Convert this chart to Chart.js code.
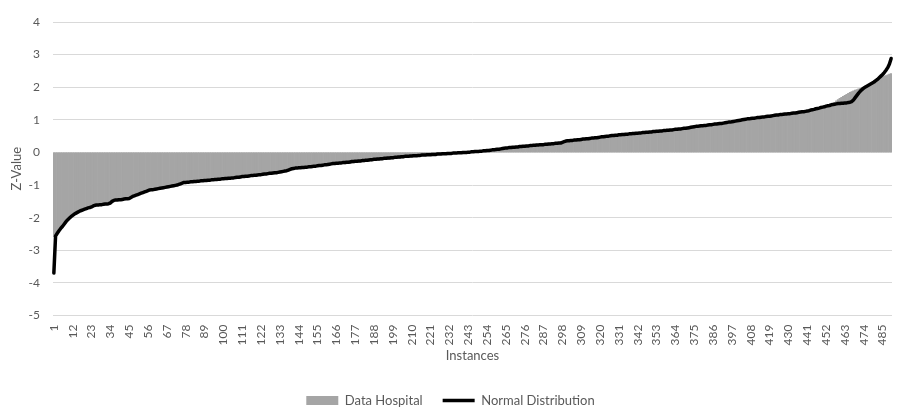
<!DOCTYPE html>
<html>
<head>
<meta charset="utf-8">
<script src="https://cdn.jsdelivr.net/npm/chart.js@4"></script>
<style>
html,body{margin:0;padding:0;background:#fff;}
#wrap{width:897px;height:417px;}
</style>
</head>
<body>
<div id="wrap"><canvas id="c" width="897" height="417"></canvas></div>
<script>
// Categories: instance numbers 1..490
const categories = Array.from({length: 490}, (_, i) => String(i + 1));
// show every 11th instance as a tick label
const tickStep = 11;
const yTicks = [4, 3, 2, 1, 0, -1, -2, -3, -4, -5];

const seriesNames = ['Data Hospital', 'Normal Distribution'];

const dataHospital = [
-2.58,-2.52,-2.46,-2.40,-2.33,-2.27,-2.20,-2.13,-2.07,-2.02,
-1.97,-1.93,-1.89,-1.86,-1.83,-1.80,-1.78,-1.76,-1.74,-1.72,
-1.70,-1.69,-1.67,-1.64,-1.62,-1.61,-1.61,-1.60,-1.60,-1.59,
-1.58,-1.58,-1.57,-1.55,-1.50,-1.47,-1.46,-1.46,-1.45,-1.45,
-1.44,-1.43,-1.42,-1.42,-1.41,-1.38,-1.35,-1.33,-1.31,-1.29,
-1.27,-1.25,-1.23,-1.21,-1.19,-1.17,-1.15,-1.14,-1.14,-1.13,
-1.12,-1.11,-1.10,-1.09,-1.08,-1.07,-1.06,-1.05,-1.04,-1.03,
-1.02,-1.01,-1.00,-0.98,-0.96,-0.94,-0.92,-0.92,-0.91,-0.91,
-0.90,-0.90,-0.89,-0.89,-0.88,-0.88,-0.87,-0.87,-0.86,-0.86,
-0.85,-0.85,-0.84,-0.84,-0.83,-0.83,-0.82,-0.82,-0.81,-0.81,
-0.80,-0.80,-0.79,-0.79,-0.78,-0.78,-0.77,-0.76,-0.76,-0.75,
-0.74,-0.74,-0.73,-0.73,-0.72,-0.71,-0.71,-0.70,-0.70,-0.69,
-0.68,-0.68,-0.67,-0.66,-0.66,-0.65,-0.64,-0.64,-0.63,-0.62,
-0.62,-0.61,-0.60,-0.59,-0.58,-0.57,-0.56,-0.54,-0.52,-0.50,
-0.49,-0.48,-0.48,-0.47,-0.47,-0.46,-0.46,-0.45,-0.45,-0.44,
-0.44,-0.43,-0.42,-0.42,-0.41,-0.40,-0.40,-0.39,-0.38,-0.38,
-0.37,-0.36,-0.35,-0.34,-0.34,-0.33,-0.33,-0.32,-0.32,-0.31,
-0.35,-0.34,-0.34,-0.33,-0.32,-0.32,-0.31,-0.31,-0.30,-0.30,
-0.29,-0.29,-0.28,-0.28,-0.27,-0.26,-0.26,-0.25,-0.25,-0.24,
-0.24,-0.23,-0.23,-0.22,-0.22,-0.21,-0.21,-0.20,-0.20,-0.19,
-0.19,-0.18,-0.18,-0.17,-0.17,-0.16,-0.16,-0.15,-0.14,-0.14,
-0.13,-0.12,-0.12,-0.11,-0.10,-0.10,-0.09,-0.09,-0.08,-0.08,
-0.07,-0.06,-0.06,-0.06,-0.05,-0.05,-0.05,-0.04,-0.04,-0.04,
-0.03,-0.03,-0.03,-0.02,-0.02,-0.02,-0.01,-0.01,-0.01,0.00,
0.00,0.00,0.01,0.01,0.02,0.02,0.03,0.03,0.03,0.04,
0.04,0.05,0.05,0.06,0.06,0.07,0.08,0.08,0.09,0.10,
0.10,0.11,0.12,0.13,0.14,0.14,0.15,0.15,0.16,0.16,
0.17,0.17,0.18,0.18,0.19,0.19,0.20,0.20,0.21,0.21,
0.22,0.22,0.23,0.23,0.24,0.24,0.24,0.25,0.25,0.26,
0.26,0.27,0.27,0.28,0.28,0.26,0.26,0.27,0.29,0.31,
0.32,0.32,0.33,0.33,0.34,0.34,0.35,0.35,0.36,0.37,
0.37,0.38,0.38,0.39,0.40,0.40,0.41,0.41,0.42,0.43,
0.44,0.44,0.45,0.46,0.46,0.47,0.48,0.49,0.50,0.51,
0.54,0.54,0.55,0.55,0.56,0.56,0.57,0.57,0.58,0.58,
0.59,0.59,0.60,0.60,0.61,0.61,0.62,0.62,0.63,0.63,
0.64,0.64,0.65,0.65,0.66,0.66,0.67,0.67,0.68,0.68,
0.69,0.69,0.70,0.71,0.71,0.72,0.72,0.73,0.74,0.74,
0.75,0.76,0.77,0.78,0.79,0.80,0.80,0.81,0.82,0.82,
0.83,0.83,0.84,0.85,0.85,0.86,0.87,0.87,0.88,0.89,
0.89,0.90,0.91,0.92,0.93,0.93,0.94,0.95,0.96,0.97,
0.98,0.99,1.00,1.01,1.02,1.03,1.03,1.04,1.05,1.05,
1.06,1.07,1.07,1.08,1.09,1.09,1.10,1.11,1.11,1.12,
1.13,1.14,1.15,1.15,1.16,1.16,1.17,1.18,1.18,1.19,
1.19,1.20,1.21,1.21,1.22,1.23,1.24,1.25,1.25,1.26,
1.27,1.28,1.30,1.31,1.32,1.34,1.35,1.36,1.38,1.39,
1.40,1.42,1.43,1.44,1.46,1.50,1.54,1.58,1.62,1.66,
1.69,1.72,1.75,1.78,1.81,1.84,1.87,1.89,1.91,1.93,
1.95,1.97,1.99,2.01,2.03,2.06,2.09,2.12,2.15,2.18,
2.21,2.24,2.27,2.30,2.32,2.34,2.36,2.38,2.40,2.42
];

const normalDistribution = [
-3.70,-2.56,-2.48,-2.40,-2.33,-2.27,-2.20,-2.13,-2.07,-2.02,
-1.97,-1.93,-1.89,-1.86,-1.83,-1.80,-1.78,-1.76,-1.74,-1.72,
-1.70,-1.69,-1.67,-1.64,-1.62,-1.61,-1.61,-1.60,-1.60,-1.59,
-1.58,-1.58,-1.57,-1.55,-1.50,-1.47,-1.46,-1.46,-1.45,-1.45,
-1.44,-1.43,-1.42,-1.42,-1.41,-1.38,-1.35,-1.33,-1.31,-1.29,
-1.27,-1.25,-1.23,-1.21,-1.19,-1.17,-1.15,-1.14,-1.14,-1.13,
-1.12,-1.11,-1.10,-1.09,-1.08,-1.07,-1.06,-1.05,-1.04,-1.03,
-1.02,-1.01,-1.00,-0.98,-0.96,-0.94,-0.92,-0.92,-0.91,-0.91,
-0.90,-0.90,-0.89,-0.89,-0.88,-0.88,-0.87,-0.87,-0.86,-0.86,
-0.85,-0.85,-0.84,-0.84,-0.83,-0.83,-0.82,-0.82,-0.81,-0.81,
-0.80,-0.80,-0.79,-0.79,-0.78,-0.78,-0.77,-0.76,-0.76,-0.75,
-0.74,-0.74,-0.73,-0.73,-0.72,-0.71,-0.71,-0.70,-0.70,-0.69,
-0.68,-0.68,-0.67,-0.66,-0.66,-0.65,-0.64,-0.64,-0.63,-0.62,
-0.62,-0.61,-0.60,-0.59,-0.58,-0.57,-0.56,-0.54,-0.52,-0.50,
-0.49,-0.48,-0.48,-0.47,-0.47,-0.46,-0.46,-0.45,-0.45,-0.44,
-0.44,-0.43,-0.42,-0.42,-0.41,-0.40,-0.40,-0.39,-0.38,-0.38,
-0.37,-0.36,-0.35,-0.34,-0.34,-0.33,-0.33,-0.32,-0.32,-0.31,
-0.31,-0.30,-0.30,-0.29,-0.28,-0.28,-0.27,-0.27,-0.26,-0.26,
-0.25,-0.25,-0.24,-0.24,-0.23,-0.22,-0.22,-0.21,-0.21,-0.20,
-0.20,-0.19,-0.19,-0.18,-0.18,-0.17,-0.17,-0.16,-0.16,-0.15,
-0.15,-0.14,-0.14,-0.13,-0.13,-0.12,-0.12,-0.12,-0.11,-0.11,
-0.10,-0.10,-0.10,-0.09,-0.09,-0.08,-0.08,-0.08,-0.07,-0.07,
-0.07,-0.06,-0.06,-0.06,-0.05,-0.05,-0.05,-0.04,-0.04,-0.04,
-0.03,-0.03,-0.03,-0.02,-0.02,-0.02,-0.01,-0.01,-0.01,0.00,
0.00,0.00,0.01,0.01,0.02,0.02,0.03,0.03,0.03,0.04,
0.04,0.05,0.05,0.06,0.06,0.07,0.08,0.08,0.09,0.10,
0.10,0.11,0.12,0.13,0.14,0.14,0.15,0.15,0.16,0.16,
0.17,0.17,0.18,0.18,0.19,0.19,0.20,0.20,0.21,0.21,
0.22,0.22,0.23,0.23,0.24,0.24,0.24,0.25,0.25,0.26,
0.26,0.27,0.27,0.28,0.28,0.29,0.29,0.31,0.33,0.35,
0.36,0.36,0.37,0.37,0.38,0.38,0.39,0.39,0.40,0.41,
0.41,0.42,0.42,0.43,0.44,0.44,0.45,0.45,0.46,0.47,
0.48,0.48,0.49,0.50,0.50,0.51,0.52,0.52,0.53,0.53,
0.54,0.54,0.55,0.55,0.56,0.56,0.57,0.57,0.58,0.58,
0.59,0.59,0.60,0.60,0.61,0.61,0.62,0.62,0.63,0.63,
0.64,0.64,0.65,0.65,0.66,0.66,0.67,0.67,0.68,0.68,
0.69,0.69,0.70,0.71,0.71,0.72,0.72,0.73,0.74,0.74,
0.75,0.76,0.77,0.78,0.79,0.80,0.80,0.81,0.82,0.82,
0.83,0.83,0.84,0.85,0.85,0.86,0.87,0.87,0.88,0.89,
0.89,0.90,0.91,0.92,0.93,0.93,0.94,0.95,0.96,0.97,
0.98,0.99,1.00,1.01,1.02,1.03,1.03,1.04,1.05,1.05,
1.06,1.07,1.07,1.08,1.09,1.09,1.10,1.11,1.11,1.12,
1.13,1.14,1.15,1.15,1.16,1.16,1.17,1.18,1.18,1.19,
1.19,1.20,1.21,1.21,1.22,1.23,1.24,1.25,1.25,1.26,
1.27,1.28,1.30,1.31,1.32,1.34,1.35,1.36,1.38,1.39,
1.40,1.42,1.43,1.44,1.46,1.47,1.48,1.49,1.50,1.50,
1.51,1.51,1.52,1.52,1.53,1.54,1.56,1.61,1.68,1.75,
1.82,1.88,1.93,1.97,2.01,2.04,2.07,2.10,2.13,2.16,
2.20,2.24,2.29,2.34,2.39,2.45,2.52,2.60,2.71,2.88
];

const FONT = "Lato, 'Open Sans', sans-serif";
const TXT = '#595959';
const GRAY = '#a5a5a5';

new Chart(document.getElementById('c'), {
  data: {
    labels: categories,
    datasets: [
      {
        type: 'bar',
        label: seriesNames[0],
        data: dataHospital,
        backgroundColor: GRAY,
        borderWidth: 0,
        barPercentage: 1,
        categoryPercentage: 1,
        order: 2
      },
      {
        type: 'line',
        label: seriesNames[1],
        data: normalDistribution,
        borderColor: '#000000',
        backgroundColor: '#000000',
        borderWidth: 3.5,
        pointRadius: 0,
        tension: 0,
        borderJoinStyle: 'round',
        borderCapStyle: 'round',
        fill: false,
        order: 1
      }
    ]
  },
  options: {
    responsive: false,
    animation: false,
    layout: { padding: { left: 9, right: 5, top: 22, bottom: 0 } },
    plugins: {
      tooltip: { enabled: false },
      legend: {
        position: 'bottom',
        labels: {
          font: { family: FONT, size: 13 },
          color: TXT,
          usePointStyle: true,
          pointStyleWidth: 32,
          boxHeight: 9,
          padding: 20,
          generateLabels: (chart) => [
            { text: seriesNames[0], pointStyle: 'rect', fillStyle: GRAY, strokeStyle: GRAY, lineWidth: 0, datasetIndex: 0, hidden: false, fontColor: TXT },
            { text: seriesNames[1], pointStyle: 'line', fillStyle: '#000', strokeStyle: '#000', lineWidth: 3.5, datasetIndex: 1, hidden: false, fontColor: TXT }
          ]
        }
      }
    },
    scales: {
      x: {
        type: 'category',
        grid: { display: false, drawTicks: false },
        border: { display: false },
        afterFit: (s) => { s.paddingLeft = 0; s.paddingRight = 0; },
        ticks: {
          autoSkip: false,
          minRotation: 90,
          maxRotation: 90,
          padding: 9,
          color: TXT,
          font: { family: FONT, size: 12 },
          callback: function (v, i) { return i % tickStep === 0 ? categories[i] : ''; }
        },
        title: { display: true, text: 'Instances', color: TXT, font: { family: FONT, size: 13 }, padding: { top: -6, bottom: 10 } }
      },
      y: {
        type: 'linear',
        min: yTicks[yTicks.length - 1],
        max: yTicks[0],
        afterBuildTicks: (s) => { s.ticks = yTicks.slice().reverse().map(v => ({ value: v })); },
        afterFit: (s) => { s.width = 44; },
        grid: { color: '#d9d9d9', lineWidth: 1, drawTicks: false },
        border: { display: false },
        ticks: { padding: 13, color: TXT, font: { family: FONT, size: 12 } },
        title: { display: true, text: 'Z-Value', color: TXT, font: { family: FONT, size: 13 }, padding: 0 }
      }
    }
  }
});
</script>
</body>
</html>
